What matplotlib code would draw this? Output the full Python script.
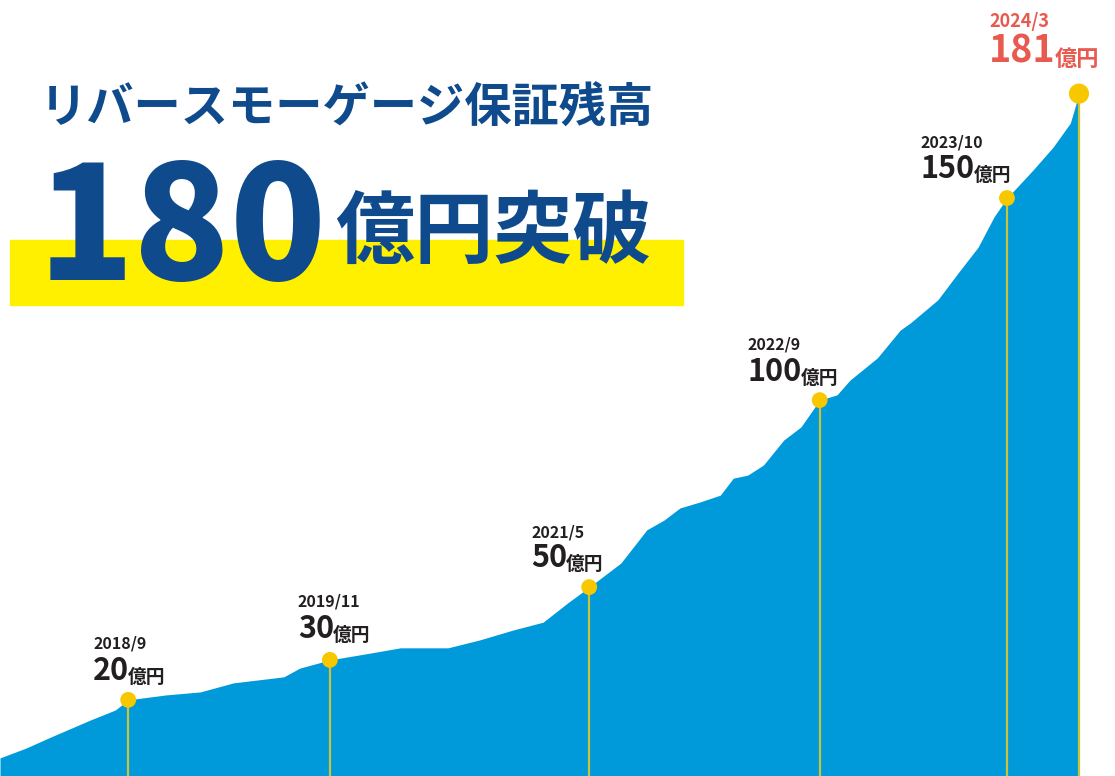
import numpy as np
import matplotlib
matplotlib.use("Agg")
import matplotlib.pyplot as plt
from matplotlib.patches import Rectangle

plt.rcParams['font.family'] = ['Noto Sans CJK JP', 'DejaVu Sans']

W, H = 1115, 776

# guarantee balance (億円), months counted from 2018/1
months = [-0.9, 0.9, 2.6, 5.4, 7.1, 8, 10.6, 13, 15.3, 18.8, 19.9, 22, 24.8, 26.9,
          30.2, 32.4, 34.7, 36.8, 38.5, 40, 42.2, 44, 45.2, 46.3, 47.7, 49.1, 50,
          51, 52.1, 53.5, 54.7, 56, 57.2, 58.1, 60, 61.6, 62.3, 64.2, 65.6, 67,
          68.1, 69, 70.8, 72.2, 73.4, 74]
balance = [4.8, 7.4, 10.3, 14.9, 17.5, 20.2, 21.5, 22.3, 24.7, 26.3, 28.6, 30.8, 32.6, 34.0,
           34.0, 36.1, 38.7, 40.8, 45.9, 50.1, 56.5, 65.3, 67.9, 71.1, 72.7, 74.5, 79.0,
           79.8, 82.5, 89.1, 92.6, 99.7, 101.1, 105.0, 110.9, 118.3, 120.2, 126.3, 133.4, 140.3,
           148.3, 153.3, 160.7, 166.8, 173.2, 181.0]

ms_months = [8, 22, 40, 56, 69, 74]
ms_dates = ['2018/9', '2019/11', '2021/5', '2022/9', '2023/10', '2024/3']
ms_amounts = ['20', '30', '50', '100', '150', '181']

title_line = 'リバースモーゲージ保証残高'
big_number = '180'
big_suffix = '億円突破'
unit = '億円'

BLUE = '#0099d9'
NAVY = '#0f4a8c'
YELLOW_BAND = '#fff000'
DOT = '#f7c800'
STEM = '#c8c43c'
DARK = '#231f20'
RED = '#e85a4f'

fig = plt.figure(figsize=(W / 100, H / 100), dpi=100)
fig.patch.set_facecolor('white')

ax = fig.add_axes([0, 0, 1, 1])
ax.set_xlim(-0.9, 76.5)
ax.set_ylim(0, H / 3.77)
ax.axis('off')

ax.fill_between(months, balance, 0, color=BLUE, linewidth=0, zorder=1)

lookup = dict(zip(months, balance))
ms_vals = [lookup[m] for m in ms_months]

ax.vlines(ms_months, 0, ms_vals, color=STEM, linewidth=1.6, zorder=2)
sizes = [130] * (len(ms_months) - 1) + [210]
ax.scatter(ms_months, ms_vals, s=sizes, color=DOT, edgecolor='none', zorder=3)

# label layout (pixels relative to the dot)
dx = [-35, -32, -58, -72, -86, -90]
date_dy = [51, 53, 50, 51, 51, 67]
val_dy = [20, 22, 20, 19, 20, 31]

for i, (m, v) in enumerate(zip(ms_months, ms_vals)):
    last = i == len(ms_months) - 1
    col = RED if last else DARK
    ax.annotate(ms_dates[i], xy=(m, v), xytext=(dx[i], date_dy[i]),
                textcoords='offset pixels', ha='left', va='baseline',
                fontsize=13 if last else 11.5, fontweight='bold', color=col, zorder=4)
    t = ax.annotate(ms_amounts[i], xy=(m, v), xytext=(dx[i], val_dy[i]),
                    textcoords='offset pixels', ha='left', va='baseline',
                    fontsize=27 if last else 22, fontweight='bold', color=col, zorder=4)
    ax.annotate(unit, xy=(1, 0), xycoords=t, xytext=(-1, 0),
                textcoords='offset pixels', ha='left', va='bottom',
                fontsize=16 if last else 13.5, fontweight='bold', color=col, zorder=4)

# header
def fx(x):
    return x / W

def fy(y):
    return 1 - y / H

fig.patches.append(Rectangle((fx(10), fy(305)), fx(683) - fx(10), fy(240) - fy(305),
                             transform=fig.transFigure, color=YELLOW_BAND, zorder=0))
fig.text(fx(40), fy(109), title_line, ha='left', va='center',
         fontsize=34, fontweight='bold', color=NAVY)
fig.text(fx(38), fy(280), big_number, ha='left', va='baseline',
         fontsize=114, fontweight='heavy', color=NAVY)
fig.text(fx(335), fy(233), big_suffix, ha='left', va='center',
         fontsize=57, fontweight='bold', color=NAVY)

fig.savefig('out.png', dpi=100)
